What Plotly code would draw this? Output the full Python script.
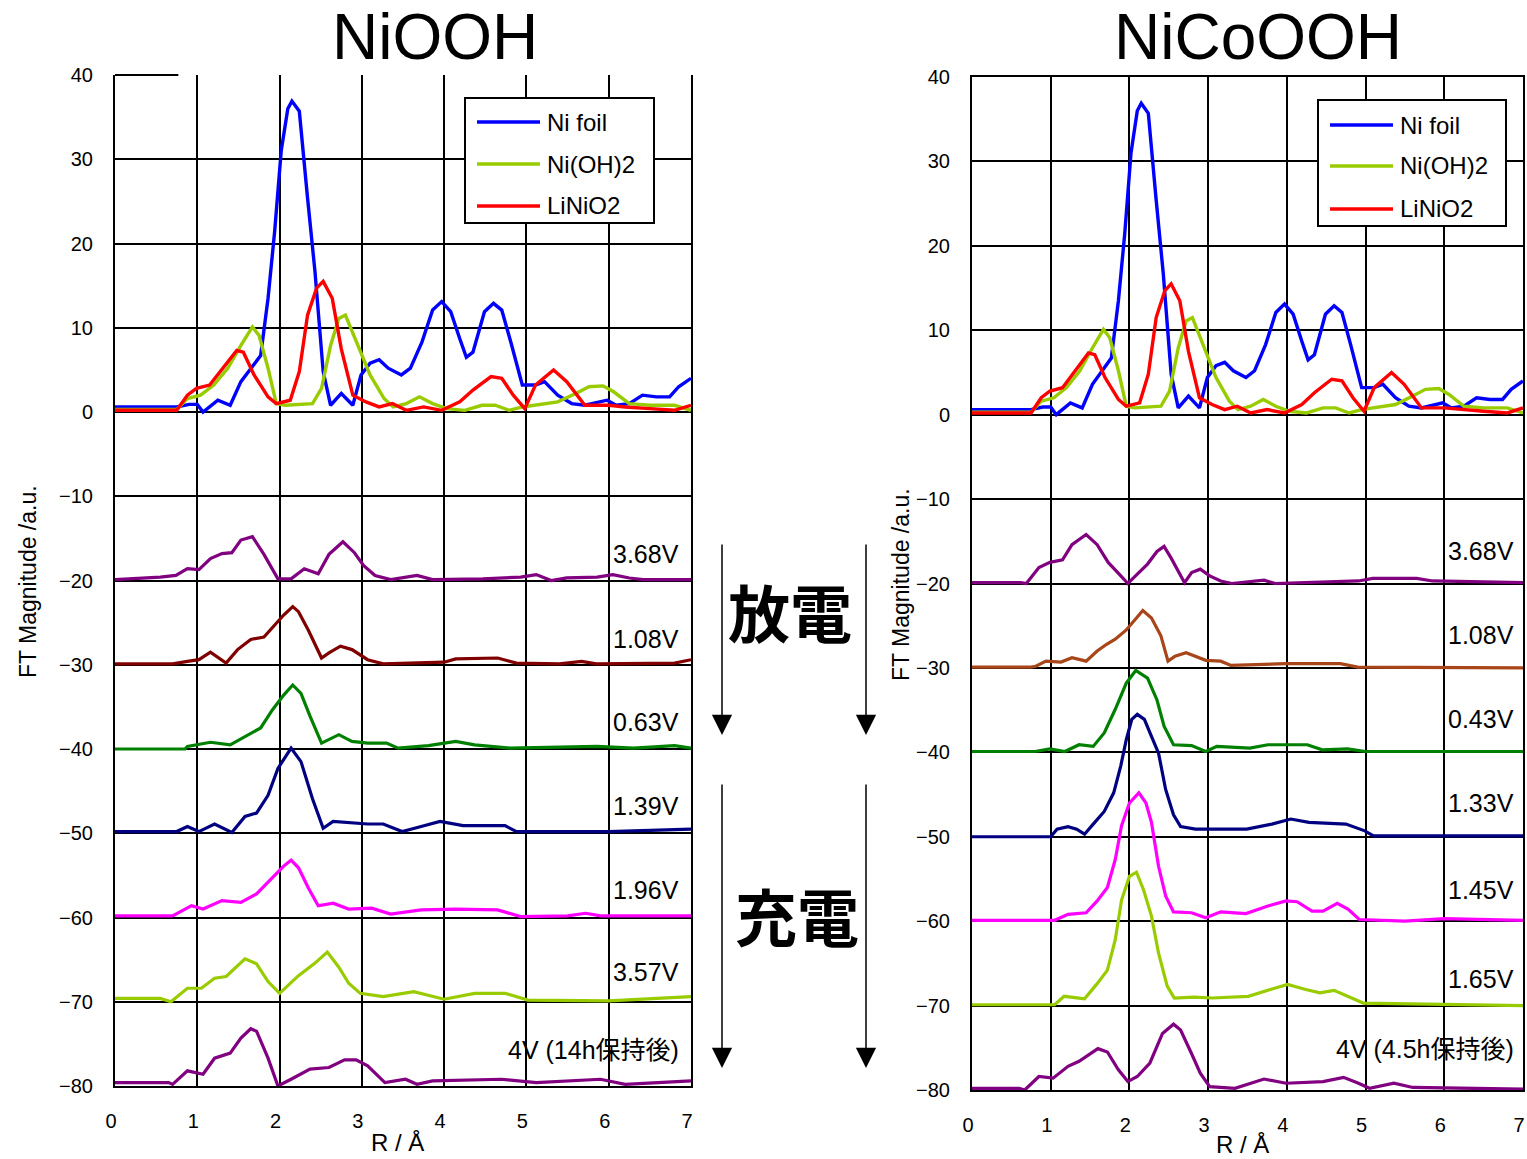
import plotly.graph_objects as go

W, H = 1527, 1159

# ---------------- data ----------------
R_TICKS = [0, 1, 2, 3, 4, 5, 6, 7]
Y_TICKS = [-80, -70, -60, -50, -40, -30, -20, -10, 0, 10, 20, 30, 40]

# reference spectra (same in both panels)
NI_FOIL_R = [0, 0.4, 0.75, 0.9, 1.0, 1.07, 1.25, 1.4, 1.53, 1.67, 1.77, 1.86, 1.94, 2.02, 2.1, 2.15,
             2.24, 2.34, 2.43, 2.53, 2.62, 2.75, 2.89, 2.99, 3.1, 3.21, 3.32, 3.48, 3.59, 3.73, 3.86,
             3.97, 4.08, 4.19, 4.27, 4.35, 4.49, 4.6, 4.7, 4.81, 4.95, 5.11, 5.22, 5.38, 5.55, 5.71,
             5.87, 5.98, 6.09, 6.25, 6.41, 6.58, 6.74, 6.85, 7.0]
NI_FOIL_M = [0.6, 0.6, 0.6, 0.9, 0.9, 0.0, 1.4, 0.8, 3.6, 5.4, 6.7, 13.5, 21.4, 31.0, 36.0, 36.9,
             35.7, 25.4, 16.7, 4.8, 0.8, 2.2, 0.8, 4.4, 5.8, 6.2, 5.2, 4.4, 5.2, 8.3, 12.1,
             13.1, 11.9, 8.7, 6.5, 7.1, 11.9, 12.9, 12.1, 8.3, 3.2, 3.2, 3.6, 2.0, 1.0, 0.8,
             1.2, 1.4, 0.8, 1.0, 2.0, 1.8, 1.8, 3.0, 4.0]

NIOH2_R = [0, 0.75, 0.88, 1.04, 1.2, 1.37, 1.53, 1.67, 1.75, 1.86, 1.96, 2.07, 2.4, 2.51, 2.62, 2.72,
           2.8, 2.94, 3.1, 3.27, 3.38, 3.54, 3.7, 3.86, 4.03, 4.25, 4.46, 4.62, 4.79, 4.95, 5.11,
           5.38, 5.6, 5.76, 5.93, 6.06, 6.25, 6.5, 6.8, 7.0]
NIOH2_M = [0.3, 0.3, 1.6, 2.0, 3.2, 5.2, 7.9, 10.1, 9.1, 5.2, 1.0, 0.8, 1.0, 2.8, 7.9, 11.1,
           11.5, 8.3, 4.4, 1.6, 0.6, 1.0, 1.8, 1.0, 0.4, 0.2, 0.8, 0.8, 0.2, 0.6, 0.8,
           1.2, 2.2, 3.0, 3.1, 2.4, 1.0, 0.8, 0.8, 0.2]

LINIO2_R = [0, 0.75, 0.88, 0.99, 1.15, 1.31, 1.48, 1.56, 1.69, 1.86, 1.96, 2.13, 2.24, 2.34, 2.45,
            2.53, 2.64, 2.75, 2.89, 3.05, 3.21, 3.37, 3.54, 3.75, 3.97, 4.19, 4.35, 4.57, 4.7, 4.84,
            4.98, 5.11, 5.33, 5.49, 5.71, 6.0, 6.2, 6.5, 6.8, 7.0]
LINIO2_M = [0.2, 0.2, 2.0, 2.8, 3.2, 5.2, 7.3, 7.1, 4.4, 1.8, 1.0, 1.4, 4.8, 11.5, 14.7,
            15.5, 13.5, 7.5, 2.0, 1.2, 0.6, 1.0, 0.2, 0.6, 0.2, 1.2, 2.6, 4.2, 4.0, 2.0,
            0.4, 3.2, 5.0, 3.6, 0.8, 0.8, 0.6, 0.4, 0.2, 0.8]

REF_NAMES = ["Ni foil", "Ni(OH)2", "LiNiO2"]

# NiOOH panel: in-situ spectra (magnitude above each baseline)
L_LABELS = ["3.68V", "1.08V", "0.63V", "1.39V", "1.96V", "3.57V", "4V (14h保持後)"]
L_OFFSETS = [-20, -30, -40, -50, -60, -70, -80]
L_368_R = [0, 0.55, 0.74, 0.88, 1.02, 1.16, 1.3, 1.42, 1.53, 1.67, 1.81, 1.98, 2.14, 2.3, 2.47, 2.6,
           2.77, 2.91, 3.02, 3.16, 3.35, 3.67, 3.86, 4.47, 4.93, 5.12, 5.3, 5.49, 5.86, 6.05, 6.25,
           6.42, 7.0]
L_368_M = [0.1, 0.4, 0.6, 1.4, 1.3, 2.6, 3.2, 3.3, 4.8, 5.2, 3.1, 0.2, 0.2, 1.4, 0.8, 3.1,
           4.6, 3.3, 1.8, 0.6, 0.1, 0.6, 0.1, 0.2, 0.4, 0.7, 0.0, 0.3, 0.4, 0.7, 0.3, 0.1, 0.1]
L_108_R = [0, 0.7, 0.88, 1.02, 1.16, 1.35, 1.49, 1.65, 1.81, 1.95, 2.05, 2.16, 2.23, 2.35, 2.51, 2.6,
           2.74, 2.88, 3.07, 3.26, 4.0, 4.14, 4.65, 4.88, 5.4, 5.67, 5.85, 6.8, 7.0]
L_108_M = [0.1, 0.1, 0.4, 0.6, 1.5, 0.2, 1.8, 3.0, 3.3, 4.9, 5.9, 6.9, 6.3, 4.1, 0.8, 1.4,
           2.2, 1.8, 0.6, 0.1, 0.3, 0.7, 0.8, 0.2, 0.1, 0.4, 0.1, 0.2, 0.6]
L_063_R = [0, 0.85, 0.88, 1.16, 1.4, 1.58, 1.77, 1.91, 2.05, 2.16, 2.26, 2.37, 2.51, 2.72, 2.88, 3.07,
           3.3, 3.44, 3.81, 4.14, 4.37, 4.8, 5.86, 6.3, 6.8, 7.0]
L_063_M = [0.0, 0.0, 0.3, 0.8, 0.5, 1.5, 2.5, 4.6, 6.4, 7.6, 6.6, 3.9, 0.7, 1.7, 0.9, 0.7,
           0.7, 0.1, 0.4, 0.9, 0.5, 0.1, 0.3, 0.1, 0.4, 0.1]
L_139_R = [0, 0.75, 0.88, 1.02, 1.21, 1.42, 1.58, 1.72, 1.86, 1.98, 2.14, 2.26, 2.4, 2.53, 2.65, 3.07,
           3.26, 3.49, 3.72, 3.95, 4.23, 4.74, 4.88, 6.0, 7.0]
L_139_M = [0.2, 0.2, 0.8, 0.2, 1.1, 0.1, 2.0, 2.4, 4.5, 7.7, 10.1, 8.5, 4.1, 0.6, 1.4, 1.1,
           1.1, 0.2, 0.8, 1.4, 0.9, 0.9, 0.2, 0.2, 0.5]
L_196_R = [0, 0.7, 0.93, 1.07, 1.3, 1.53, 1.72, 1.91, 2.05, 2.14, 2.23, 2.35, 2.47, 2.65, 2.84, 3.12,
           3.35, 3.72, 4.14, 4.65, 4.93, 5.5, 5.72, 5.9, 7.0]
L_196_M = [0.2, 0.2, 1.4, 1.0, 2.0, 1.8, 2.8, 4.7, 6.1, 6.8, 5.9, 3.5, 1.4, 1.7, 1.0, 1.1,
           0.4, 0.9, 1.0, 0.9, 0.1, 0.2, 0.5, 0.2, 0.2]
L_357_R = [0, 0.55, 0.68, 0.88, 1.05, 1.21, 1.35, 1.58, 1.72, 1.86, 2.0, 2.23, 2.42, 2.58, 2.72, 2.84,
           2.98, 3.26, 3.63, 4.0, 4.37, 4.74, 5.02, 6.0, 7.0]
L_357_M = [0.4, 0.4, 0.0, 1.6, 1.6, 2.8, 3.0, 5.1, 4.5, 2.4, 1.0, 3.1, 4.5, 5.9, 4.1, 2.2,
           1.0, 0.6, 1.2, 0.3, 1.0, 1.0, 0.2, 0.1, 0.6]
L_4V_R = [0, 0.65, 0.7, 0.88, 1.07, 1.21, 1.4, 1.53, 1.65, 1.72, 1.86, 1.98, 2.14, 2.37, 2.6, 2.79,
          2.93, 3.07, 3.28, 3.53, 3.67, 3.86, 4.7, 5.12, 5.9, 6.2, 7.0]
L_4V_M = [0.4, 0.4, 0.2, 1.8, 1.4, 3.3, 3.9, 5.7, 6.8, 6.5, 3.3, 0.0, 0.8, 2.0, 2.2, 3.1,
          3.1, 2.4, 0.4, 0.8, 0.2, 0.6, 0.8, 0.4, 0.8, 0.2, 0.6]

# NiCoOOH panel
R_LABELS = ["3.68V", "1.08V", "0.43V", "1.33V", "1.45V", "1.65V", "4V (4.5h保持後)"]
R_OFFSETS = [-20, -30, -40, -50, -60, -70, -80]
R_368_R = [0, 0.62, 0.69, 0.85, 0.99, 1.15, 1.27, 1.36, 1.45, 1.59, 1.73, 1.87, 1.98, 2.1, 2.23, 2.35,
           2.44, 2.53, 2.7, 2.79, 2.9, 3.02, 3.16, 3.3, 3.71, 3.85, 4.91, 5.09, 5.65, 5.85, 7.0]
R_368_M = [0.1, 0.1, 0.0, 1.9, 2.5, 2.8, 4.6, 5.2, 5.8, 4.6, 2.5, 1.1, 0.0, 1.1, 2.3, 3.8,
           4.4, 3.0, 0.1, 1.3, 1.7, 0.9, 0.3, 0.0, 0.4, 0.0, 0.3, 0.6, 0.6, 0.3, 0.1]
R_108_R = [0, 0.75, 0.81, 0.94, 1.13, 1.27, 1.45, 1.59, 1.71, 1.82, 1.96, 2.07, 2.17, 2.28, 2.4, 2.49,
           2.58, 2.72, 2.83, 2.97, 3.16, 3.29, 3.99, 4.68, 4.9, 7.0]
R_108_M = [0.1, 0.1, 0.2, 0.8, 0.7, 1.2, 0.8, 2.0, 2.8, 3.4, 4.5, 5.7, 6.8, 5.9, 3.8, 0.8,
           1.4, 1.8, 1.4, 0.9, 0.8, 0.3, 0.5, 0.5, 0.1, 0.0]
R_043_R = [0, 0.8, 0.99, 1.18, 1.36, 1.54, 1.68, 1.82, 1.96, 2.08, 2.23, 2.35, 2.44, 2.56, 2.79, 2.97,
           3.11, 3.53, 3.76, 4.26, 4.45, 4.77, 5.0, 7.0]
R_043_M = [0.1, 0.1, 0.4, 0.1, 0.9, 0.7, 2.3, 5.1, 8.2, 9.7, 8.8, 6.2, 3.1, 0.9, 0.8, 0.1,
           0.7, 0.5, 0.9, 0.9, 0.3, 0.4, 0.1, 0.1]
R_133_R = [0, 1.0, 1.08, 1.22, 1.33, 1.43, 1.54, 1.68, 1.8, 1.89, 1.96, 2.03, 2.1, 2.19, 2.28, 2.37,
           2.46, 2.56, 2.65, 2.84, 3.11, 3.49, 3.81, 4.05, 4.28, 4.75, 4.99, 5.1, 7.0]
R_133_M = [0.0, 0.0, 0.9, 1.2, 0.9, 0.3, 1.5, 3.0, 5.2, 8.4, 11.5, 13.9, 14.5, 13.9, 11.9, 9.9,
           5.6, 2.6, 1.2, 0.9, 0.9, 0.9, 1.5, 2.1, 1.7, 1.5, 0.7, 0.1, 0.1]
R_145_R = [0, 1.05, 1.22, 1.45, 1.59, 1.72, 1.82, 1.9, 2.0, 2.12, 2.21, 2.28, 2.37, 2.46, 2.56, 2.79,
           2.97, 3.16, 3.48, 3.76, 3.99, 4.13, 4.32, 4.46, 4.64, 4.78, 4.92, 5.5, 6.0, 7.0]
R_145_M = [0.1, 0.1, 0.8, 1.0, 2.4, 4.0, 7.3, 11.3, 14.0, 15.2, 14.0, 11.7, 6.5, 3.0, 1.1, 1.0,
           0.4, 1.1, 0.9, 1.8, 2.4, 2.3, 1.2, 1.2, 2.1, 1.4, 0.2, 0.0, 0.3, 0.1]
R_165_R = [0, 1.05, 1.17, 1.43, 1.59, 1.72, 1.82, 1.9, 2.0, 2.09, 2.18, 2.28, 2.37, 2.48, 2.57, 2.82,
           3.05, 3.51, 3.79, 4.01, 4.24, 4.42, 4.6, 4.78, 4.97, 7.0]
R_165_M = [0.1, 0.1, 1.1, 0.8, 2.6, 4.2, 7.8, 12.5, 15.3, 15.8, 13.7, 10.6, 6.2, 2.3, 0.9, 1.0,
           0.9, 1.1, 1.9, 2.5, 1.9, 1.5, 1.8, 1.1, 0.3, 0.0]
R_4V_R = [0, 0.6, 0.67, 0.85, 1.03, 1.22, 1.36, 1.6, 1.72, 1.86, 1.98, 2.1, 2.26, 2.42, 2.56, 2.65,
          2.79, 2.9, 3.02, 3.34, 3.71, 3.99, 4.46, 4.72, 4.91, 5.05, 5.36, 5.6, 7.0]
R_4V_M = [0.2, 0.2, 0.0, 1.6, 1.4, 2.8, 3.4, 4.9, 4.5, 2.4, 1.0, 1.6, 3.2, 6.7, 7.8, 7.1,
          4.3, 2.0, 0.4, 0.2, 1.3, 0.8, 1.0, 1.5, 0.8, 0.2, 0.8, 0.3, 0.1]

# ---------------- styles ----------------
BLUE, YG, RED = "#0000ff", "#99cc00", "#ff0000"
PURPLE, MAROON, BROWN, GREEN, NAVY, MAGENTA = "#800080", "#800000", "#a8461a", "#008000", "#000080", "#ff00ff"
LATIN = "Liberation Sans, Arial, sans-serif"
JP = "Liberation Sans, Noto Sans CJK JP, sans-serif"

REF_SERIES = [(NI_FOIL_R, NI_FOIL_M, BLUE), (NIOH2_R, NIOH2_M, YG), (LINIO2_R, LINIO2_M, RED)]
LEFT_SERIES = [(L_368_R, L_368_M, PURPLE), (L_108_R, L_108_M, MAROON), (L_063_R, L_063_M, GREEN),
               (L_139_R, L_139_M, NAVY), (L_196_R, L_196_M, MAGENTA), (L_357_R, L_357_M, YG),
               (L_4V_R, L_4V_M, PURPLE)]
RIGHT_SERIES = [(R_368_R, R_368_M, PURPLE), (R_108_R, R_108_M, BROWN), (R_043_R, R_043_M, GREEN),
                (R_133_R, R_133_M, NAVY), (R_145_R, R_145_M, MAGENTA), (R_165_R, R_165_M, YG),
                (R_4V_R, R_4V_M, PURPLE)]


def px(x):
    return x / W


def py(y):
    return 1 - y / H


fig = go.Figure()

for xa, ya in (("x", "y"), ("x2", "y2")):
    for (r, m, c), name in zip(REF_SERIES, REF_NAMES):
        fig.add_trace(go.Scatter(x=r, y=m, mode="lines", name=name, line=dict(color=c, width=3.4),
                                 xaxis=xa, yaxis=ya, showlegend=False, hoverinfo="skip"))

for (xa, ya, series, offsets, labels) in (("x", "y", LEFT_SERIES, L_OFFSETS, L_LABELS),
                                          ("x2", "y2", RIGHT_SERIES, R_OFFSETS, R_LABELS)):
    for (r, m, c), off, lab in zip(series, offsets, labels):
        fig.add_trace(go.Scatter(x=r, y=[off + v for v in m], mode="lines", name=lab,
                                 line=dict(color=c, width=3.2), xaxis=xa, yaxis=ya,
                                 showlegend=False, hoverinfo="skip"))

tickfont = dict(family=LATIN, size=20, color="black")
xcommon = dict(range=[0, 7], tickvals=R_TICKS, showgrid=True, gridcolor="black", gridwidth=1.6,
               showline=True, linecolor="black", linewidth=2, ticks="", zeroline=False,
               tickfont=tickfont, ticklabelstandoff=16, ticklabelshift=-4, ticklabeloverflow="allow",
               fixedrange=True, automargin=False)
ycommon = dict(range=[-80, 40], tickvals=Y_TICKS, showgrid=True, gridcolor="black", gridwidth=1.6,
               showline=True, linecolor="black", linewidth=2, mirror=True, ticks="", zeroline=False,
               tickfont=tickfont, ticklabelstandoff=16, ticklabeloverflow="allow",
               fixedrange=True, automargin=False)

fig.update_layout(
    template="none",
    width=W, height=H, autosize=False,
    margin=dict(l=0, r=0, t=0, b=0, pad=0, autoexpand=False),
    paper_bgcolor="white", plot_bgcolor="white",
    xaxis=dict(xcommon, domain=[px(115), px(691)], anchor="y", mirror=False),
    yaxis=dict(ycommon, domain=[py(1086), py(75)], anchor="x"),
    xaxis2=dict(xcommon, domain=[px(972), px(1523)], anchor="y2", mirror=True),
    yaxis2=dict(ycommon, domain=[py(1090), py(77)], anchor="x2"),
    showlegend=False,
)

shapes = []
# short top border segment of the left panel (drawn on the top edge of the left plot area)
shapes.append(dict(type="line", xref="x", yref="paper", x0=0, x1=0.77, y0=py(75), y1=py(75),
                   line=dict(color="black", width=2)))

# legends (boxes + line samples)
legend_specs = [
    dict(box=(465, 98, 654, 223), line_x=(477, 540), rows=[122, 164, 206], text_x=545),
    dict(box=(1318, 100, 1506, 226), line_x=(1330, 1393), rows=[125, 166, 209], text_x=1398),
]
annotations = []
for spec in legend_specs:
    x0, y0, x1, y1 = spec["box"]
    shapes.append(dict(type="rect", xref="paper", yref="paper", x0=px(x0), x1=px(x1), y0=py(y1), y1=py(y0),
                       fillcolor="white", line=dict(color="black", width=2), layer="above"))
    for (r, m, c), name, yy in zip(REF_SERIES, REF_NAMES, spec["rows"]):
        shapes.append(dict(type="line", xref="paper", yref="paper", x0=px(spec["line_x"][0]),
                           x1=px(spec["line_x"][1]), y0=py(yy), y1=py(yy),
                           line=dict(color=c, width=3.4), layer="above"))
        annotations.append(dict(text=name, xref="paper", yref="paper", x=px(spec["text_x"]), y=py(yy),
                                xanchor="left", yanchor="middle", showarrow=False,
                                font=dict(family=LATIN, size=24, color="black")))

# titles
annotations.append(dict(text="NiOOH", xref="paper", yref="paper", x=px(435), y=py(37), showarrow=False,
                        xanchor="center", yanchor="middle", font=dict(family=LATIN, size=64, color="black")))
annotations.append(dict(text="NiCoOOH", xref="paper", yref="paper", x=px(1258), y=py(37), showarrow=False,
                        xanchor="center", yanchor="middle", font=dict(family=LATIN, size=64, color="black")))

# axis titles
for xx, yy in ((28, 582), (901, 585)):
    annotations.append(dict(text="FT Magnitude /a.u.", xref="paper", yref="paper", x=px(xx), y=py(yy),
                            textangle=-90, showarrow=False, xanchor="center", yanchor="middle",
                            font=dict(family=LATIN, size=23, color="black")))
for xx, yy in ((397, 1142), (1242, 1144)):
    annotations.append(dict(text="R / Å", xref="paper", yref="paper", x=px(xx), y=py(yy),
                            showarrow=False, xanchor="center", yanchor="middle",
                            font=dict(family=LATIN, size=24, color="black")))

# curve labels
L_LABEL_Y = [3.1, 3.1, 3.2, 3.2, 3.3, 3.5, 4.3]
R_LABEL_Y = [3.9, 3.9, 4.0, 4.0, 3.7, 3.1, 4.8]
for i, (lab, off) in enumerate(zip(L_LABELS, L_OFFSETS)):
    annotations.append(dict(text=lab, xref="x", yref="y", x=6.88, y=off + L_LABEL_Y[i], showarrow=False,
                            xanchor="right", yanchor="middle", font=dict(family=JP, size=25, color="black")))
for i, (lab, off) in enumerate(zip(R_LABELS, R_OFFSETS)):
    if i < 6:
        annotations.append(dict(text=lab, xref="x2", yref="y2", x=6.91, y=off + R_LABEL_Y[i], showarrow=False,
                                xanchor="right", yanchor="middle",
                                font=dict(family=JP, size=25, color="black")))
    else:
        annotations.append(dict(text=lab, xref="x2", yref="y2", x=4.6, y=off + R_LABEL_Y[i], showarrow=False,
                                xanchor="left", yanchor="middle",
                                font=dict(family=JP, size=25, color="black")))

# arrows
for ax_x in (722, 866):
    for (top, tip) in ((543, 735), (783, 1068)):
        annotations.append(dict(text="", xref="paper", yref="paper", x=px(ax_x), y=py(tip),
                                ax=0, ay=-(tip - top), axref="pixel", ayref="pixel", showarrow=True,
                                arrowhead=2, arrowsize=2.7, arrowwidth=1.5, arrowcolor="black",
                                standoff=0, startstandoff=0))

annotations.append(dict(text="<b>放電</b>", xref="paper", yref="paper", x=px(790), y=py(611), showarrow=False,
                        xanchor="center", yanchor="middle",
                        font=dict(family="Noto Sans CJK JP", size=62, color="black")))
annotations.append(dict(text="<b>充電</b>", xref="paper", yref="paper", x=px(797), y=py(915), showarrow=False,
                        xanchor="center", yanchor="middle",
                        font=dict(family="Noto Sans CJK JP", size=62, color="black")))

fig.update_layout(shapes=shapes, annotations=annotations)
fig.write_html("out.html", config={"displayModeBar": False})
